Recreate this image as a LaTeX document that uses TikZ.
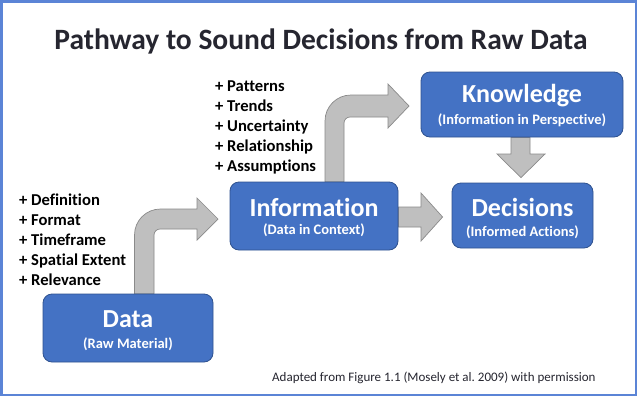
\documentclass[tikz,border=0pt]{standalone}
\usepackage{fontspec}
\setmainfont{Carlito}[Ligatures={NoCommon}]
\frenchspacing
\usetikzlibrary{calc}
\definecolor{boxblue}{HTML}{4472C4}
\definecolor{boxedge}{HTML}{2F528F}
\definecolor{arrowgray}{HTML}{BFBFBF}
\definecolor{arrowedge}{HTML}{8A8A8A}
\definecolor{frameblue}{HTML}{5B84D6}
\definecolor{titlecol}{HTML}{262630}
\pgfdeclarelayer{bgzero}
\pgfdeclarelayer{bgone}
\pgfsetlayers{bgzero,bgone,main}
\begin{document}
\begin{tikzpicture}[x=1pt,y=-1pt,
  stagebox/.style={draw=boxedge, line width=0.8pt, fill=boxblue, rounded corners=9pt, inner sep=0pt},
  maintext/.style={anchor=base, text=white, font=\fontsize{26}{26}\selectfont\bfseries, inner sep=0pt},
  subtext/.style={anchor=base, text=white, font=\fontsize{14.5}{14.5}\selectfont\bfseries, inner sep=0pt},
  listtext/.style={anchor=base west, font=\fontsize{16.6}{16.6}\selectfont\bfseries, inner sep=0pt, text=black},
  blockarrow/.style={fill=arrowgray, draw=arrowedge, line width=0.7pt, line join=miter}]

\useasboundingbox (0,0) rectangle (640,397);
\begin{pgfonlayer}{bgzero}
  \fill[white] (0,0) rectangle (640,397);
  \draw[frameblue, line width=2.5pt] (1.5,1.5) rectangle (636,395);
\end{pgfonlayer}

% stage boxes
\node[stagebox, minimum width=170pt, minimum height=68pt] (data) at (128,328) {};
\node[stagebox, minimum width=168pt, minimum height=68pt] (info) at (314,216) {};
\node[stagebox, minimum width=202pt, minimum height=65pt] (know) at (522,104.5) {};
\node[stagebox, minimum width=141pt, minimum height=65pt] (dec) at (522.5,215.5) {};

\node[maintext] (datat) at ($(data.north)+(0,34)$) {Data};
\node[subtext]  (datas) at ($(data.north)+(0,55)$) {(Raw Material)};
\node[maintext] (infot) at ($(info.north)+(0,35)$) {Information};
\node[subtext]  (infos) at ($(info.north)+(0,53)$) {(Data in Context)};
\node[maintext] (knowt) at ($(know.north)+(0,31)$) {Knowledge};
\node[subtext]  (knows) at ($(know.north)+(0,53)$) {(Information in Perspective)};
\node[maintext] (dect)  at ($(dec.north)+(0,34)$) {Decisions};
\node[subtext]  (decs)  at ($(dec.north)+(0,54)$) {(Informed Actions)};

% block arrows
\begin{pgfonlayer}{bgone}
  \path[blockarrow] ($(data.north)+(6.5,0)$) -- (134.5,235)
     .. controls (134.5,220.6) and (146.1,209) .. (160.5,209)
     -- (197,209) -- (197,198) -- (218,219) -- (197,240) -- (197,229) -- (160,229)
     .. controls (156.7,229) and (154,231.7) .. (154,235)
     -- ($(data.north)+(26,0)$) -- cycle;
  \path[blockarrow] ($(info.north)+(11,0)$) -- (325,121)
     .. controls (325,106.6) and (336.6,95) .. (351,95)
     -- (388,95) -- (388,84) -- (409,106) -- (388,128) -- (388,117) -- (350,117)
     .. controls (346.7,117) and (344,119.7) .. (344,123)
     -- ($(info.north)+(30,0)$) -- cycle;
  \path[blockarrow] ($(info.east)+(0,-9)$) -- (421,207) -- (421,193)
     -- ($(dec.west)+(-9,1.5)$) -- (421,241) -- (421,227) -- ($(info.east)+(0,11)$) -- cycle;
  \path[blockarrow] ($(know.south)+(-11,0)$) -- (511,154) -- (497,154)
     -- ($(dec.north)+(-1.5,-5)$) -- (545,154) -- (530,154) -- ($(know.south)+(8,0)$) -- cycle;
\end{pgfonlayer}

% lists
\foreach \t [count=\i] in {Definition, Format, Timeframe, Spatial Extent, Relevance}
  \node[listtext] (la\i) at (19,185+20*\i) {+ \t};
\foreach \t [count=\i] in {Patterns, Trends, Uncertainty, Relationship, Assumptions}
  \node[listtext] (lb\i) at (215,71+20*\i) {+ \t};

% title and note
\node[anchor=base, inner sep=0pt, text=titlecol, font=\fontsize{29.5}{30}\selectfont\bfseries] (title) at (321,49) {Pathway to Sound Decisions from Raw Data};
\node[anchor=base west, inner sep=0pt, text=titlecol, font=\fontsize{13}{13}\selectfont] (note) at (272,381) {Adapted from Figure 1.1 (Mosely et al. 2009) with permission};
\end{tikzpicture}
\end{document}
